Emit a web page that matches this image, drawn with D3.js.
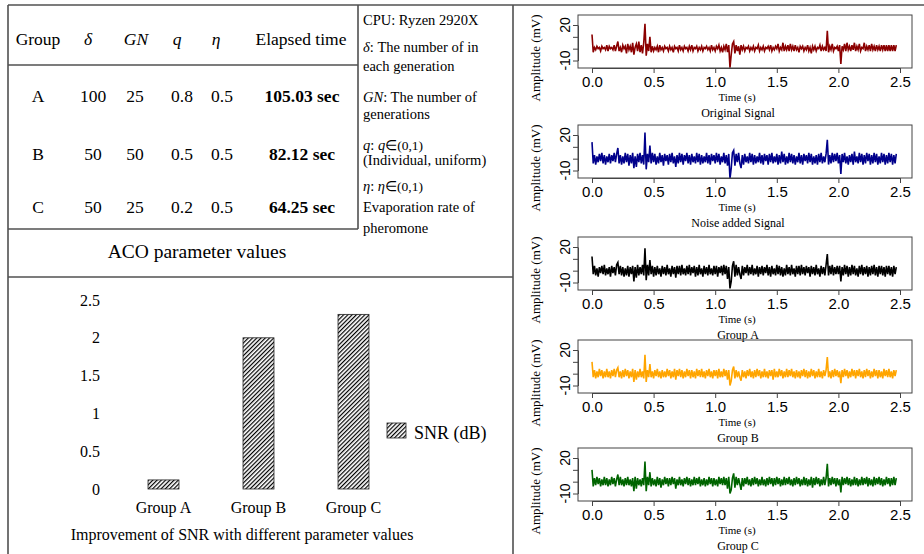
<!DOCTYPE html>
<html>
<head>
<meta charset="utf-8">
<script src="https://cdn.jsdelivr.net/npm/d3@7"></script>
<style>
body { margin: 0; background: #fff; }
svg { display: block; }
</style>
</head>
<body>
<div id="chart"></div>
<script>
// ACO parameter table
var groups = ["A", "B", "C"];
var delta = [100, 50, 50];
var gn = [25, 50, 25];
var qVals = ["0.8", "0.5", "0.2"];
var eta = ["0.5", "0.5", "0.5"];
var elapsed = ["105.03 sec", "82.12 sec", "64.25 sec"];

// SNR improvement bars
var snrCategories = ["Group A", "Group B", "Group C"];
var snrValues = [0.12, 2.0, 2.31];
var snrTicks = [0, 0.5, 1, 1.5, 2, 2.5];

// signal panels
var timeTicks = [0.0, 0.5, 1.0, 1.5, 2.0, 2.5];
var ampTicks = [-10, 0, 10, 20];
var ampLabels = [-10, 20];
var sampleStep = 0.01;   // seconds between samples
var signalTitles = ["Original Signal", "Noise added Signal", "Group A", "Group B", "Group C"];

var originalSignal = [
 12,-3,1,-1,2,0,1,-2,2,0, 1,-1,3,-2,2,0,1,-1,3,-2, 2,6,-2,1,-3,3,0,2,-4,4,
 -1,2,-3,5,-5,1,4,-2,6,-3, 3,-4,5,21,-6,4,-2,10,-3,2, -2,1,-1,2,-3,3,-1,1,-2,2,
 0,1,-2,2,-1,1,-3,2,0,1, -2,3,-1,1,-2,2,0,1,-2,2, -1,3,-2,1,0,2,-2,1,-1,2,
 -2,1,0,2,-1,1,-2,3,-1,1, -2,2,0,3,-2,1,-3,2,-1,4, -3,3,-16,-5,4,6,-4,3,-2,2,
 -5,3,-1,2,-2,1,0,2,-2,1, -1,2,-2,1,0,3,-2,1,-1,2, -2,1,0,2,-1,3,-2,1,-1,2,
 0,4,-2,1,-1,5,-2,2,-1,3, -2,4,-1,2,-2,3,-1,1,-3,2, 0,2,-2,1,-1,3,-2,1,-4,2,
 -1,2,-2,1,0,3,-2,2,-1,1, -2,15,-3,2,-1,4,-2,1,0,2, -2,3,-13,2,-1,4,-2,5,-1,2,
 -2,3,-1,5,-2,2,-1,4,-2,1, 0,5,-2,2,-1,3,-2,4,-1,2, -2,3,-1,2,-2,3,-1,3,-2,3,
 -2,3,-2,3,-2,3,-2,3
];
var noisySignal = [
 14,-4,3,-5,2,-3,4,-2,5,-4, 3,-5,2,-3,4,-4,3,-2,5,-3, 4,9,-4,3,-5,2,-4,5,-3,4,
 -6,3,-4,5,-8,2,-7,4,-3,5, -4,3,-5,22,-9,4,-3,11,-4,5, -3,4,-5,2,-4,5,-3,3,-6,4,
 -2,3,-5,4,-3,5,-4,2,-7,3, -4,5,-3,4,-5,3,-2,5,-4,3, -5,4,-3,2,-4,5,-3,4,-5,3,
 -4,2,-3,5,-4,3,-5,4,-2,3, -4,5,-3,4,-5,2,-3,5,-4,3, -6,4,-17,-8,5,7,-6,4,-3,5,
 -4,-8,3,-5,4,-3,2,-4,5,-3, 4,-5,3,-4,2,-3,5,-4,3,-5, 4,-2,3,-5,4,-3,5,-4,2,-3,
 4,-5,3,-4,6,-3,4,-5,2,-4, 5,-3,4,-4,3,-5,2,-3,5,-4, 3,-5,4,-2,3,-4,5,-3,4,-5,
 2,-4,3,-5,4,-3,5,-4,2,-3, 4,16,-5,3,-4,5,-3,4,-2,5, -4,3,-13,4,-3,5,-4,2,-5,3,
 -3,4,-5,6,-3,2,-4,5,-3,4, -5,3,-4,5,-2,4,-5,3,-4,5, -3,4,-5,2,-4,5,-3,4,-5,3,
 -4,5,-3,4,-5,3,-4,4
];
var groupASignal = [
 12,-3,4,-4,2,-5,3,-2,4,-3, 5,-4,2,-3,3,-5,4,-2,3,-4, 5,7,-3,4,-4,3,-5,2,-4,4,
 -5,3,-3,4,-9,3,-6,5,-4,3, -3,5,-4,19,-8,5,-4,9,-3,4, -5,3,-4,4,-3,2,-5,4,-3,3,
 -4,5,-3,2,-5,4,-3,3,-6,4, -3,4,-4,5,-3,2,-4,4,-3,5, -4,3,-2,4,-5,3,-4,5,-3,2,
 -5,4,-3,3,-4,5,-3,2,-4,4, -3,4,-5,3,-2,4,-4,5,-3,4, -7,3,-15,-9,4,8,-5,5,-4,3,
 -3,-7,4,-4,3,-2,5,-4,3,-3, 5,-4,2,-3,4,-5,3,-3,4,-4, 3,-2,5,-4,3,-5,4,-3,2,-4,
 5,-3,4,-4,3,-5,2,-4,5,-3, 3,-4,5,-3,2,-5,4,-3,4,-4, 5,-3,3,-4,4,-2,3,-5,4,-3,
 3,-4,5,-3,2,-5,4,-3,3,-4, 5,14,-4,4,-3,5,-4,3,-3,4, -3,4,-9,3,-4,5,-3,4,-5,3,
 -4,5,-3,4,-4,2,-5,4,-3,5, -4,3,-3,4,-5,3,-4,4,-3,5, -4,3,-5,4,-3,4,-4,3,-5,4,
 -3,4,-4,3,-5,4,-3,3
];
var groupBSignal = [
 10,-3,3,-4,2,-3,4,-2,3,-4, 2,-3,4,-3,2,-4,3,-2,4,-3, 3,5,-3,2,-4,3,-3,4,-2,3,
 -4,2,-3,4,-7,3,-5,2,-3,4, -3,2,-4,16,-7,3,-3,8,-3,2, -4,3,-2,4,-3,2,-4,3,-3,2,
 -3,4,-2,3,-4,2,-3,4,-5,3, -2,4,-3,3,-4,2,-3,4,-2,3, -4,3,-3,2,-4,4,-2,3,-3,4,
 -3,2,-4,3,-2,4,-3,2,-4,3, -2,3,-4,4,-3,2,-3,4,-2,3, -5,3,-10,-6,3,6,-4,3,-3,2,
 -3,-6,3,-3,2,-4,3,-2,4,-3, 2,-4,3,-3,4,-2,3,-4,2,-3, 4,-3,2,-4,3,-2,3,-5,4,-3,
 2,-3,4,-2,3,-4,2,-3,4,-3, 3,-2,4,-3,2,-4,3,-3,2,-4, 3,-2,4,-3,3,-4,2,-3,4,-2,
 3,-4,2,-3,4,-3,2,-4,3,-2, 3,14,-3,2,-4,3,-3,4,-2,3, -3,2,-8,3,-3,4,-2,3,-4,2,
 -3,4,-2,3,-4,3,-2,4,-3,2, -4,3,-3,4,-2,3,-4,2,-3,4, -2,3,-4,3,-3,2,-4,4,-2,3,
 -3,4,-3,2,-4,3,-2,3
];
var groupCSignal = [
 10,-4,3,-3,4,-2,3,-4,2,-3, 4,-3,3,-4,2,-3,4,-2,3,-4, 2,6,-3,4,-3,2,-4,3,-3,4,
 -3,2,-4,3,-8,4,-6,3,-3,2, -4,3,-3,17,-8,4,-3,8,-4,3, -3,2,-4,4,-3,3,-5,2,-3,4,
 -2,3,-4,3,-3,4,-2,3,-6,2, -3,4,-3,2,-4,3,-2,4,-3,3, -4,2,-3,4,-3,3,-2,4,-4,2,
 -3,3,-4,2,-3,4,-2,3,-4,3, -3,2,-4,4,-2,3,-3,4,-3,3, -6,4,-10,-7,3,7,-5,4,-3,3,
 -2,-7,3,-4,3,-2,4,-3,2,-4, 3,-3,4,-2,3,-4,2,-3,4,-3, 2,-4,3,-3,4,-2,3,-4,3,-3,
 4,-2,3,-4,2,-3,4,-3,3,-2, 4,-3,2,-4,3,-3,4,-2,3,-4, 2,-3,4,-3,3,-4,2,-3,4,-5,
 3,-3,4,-2,3,-4,2,-3,4,-3, 3,15,-4,3,-3,4,-2,3,-4,3, -3,2,-9,4,-3,3,-2,4,-3,3,
 -4,2,-3,4,-3,3,-4,2,-3,4, -3,3,-2,4,-4,3,-3,2,-4,4, -3,3,-2,4,-3,3,-4,2,-3,4,
 -2,3,-4,3,-3,4,-3,3
];

var signals = [originalSignal, noisySignal, groupASignal, groupBSignal, groupCSignal];
var signalColors = ["#8b0000", "#00008b", "#000000", "#ffa500", "#006400"];

var serif = "'Liberation Serif','Times New Roman',serif";
var sans = "'Liberation Sans',Arial,sans-serif";

var svg = d3.select("#chart").append("svg")
	.attr("width", 924)
	.attr("height", 554)
	.style("font-family", serif);

// frame lines round the panels
var frame = [
	[8, 5, 924, 5], [8, 5, 8, 554], [513, 5, 513, 554], [8, 277, 513, 277],
	[358, 5, 358, 229], [8, 65, 358, 65], [8, 229, 358, 229]
];
svg.selectAll("line.frame")
	.data(frame).enter().append("line")
	.attr("class", "frame")
	.attr("x1", function(d) { return d[0]; })
	.attr("y1", function(d) { return d[1]; })
	.attr("x2", function(d) { return d[2]; })
	.attr("y2", function(d) { return d[3]; })
	.style("stroke", "#505050")
	.style("stroke-width", "1.6px");

///////////////////////////////////////////
// table
var headers = [["Group", false], ["δ", true], ["GN", true], ["q", true], ["η", true], ["Elapsed time", false]];
var headerX = [38, 88, 136, 177, 216, 301];
var cellX = [38, 93, 135, 182, 222, 302];
var rowY = [102, 160, 213];

svg.selectAll("text.header")
	.data(headers).enter().append("text")
	.attr("class", "header")
	.attr("x", function(d, i) { return headerX[i]; })
	.attr("y", 45)
	.attr("text-anchor", "middle")
	.style("font-size", "17.5px")
	.style("font-style", function(d) { return d[1] ? "italic" : "normal"; })
	.text(function(d) { return d[0]; });

var rows = groups.map(function(g, i) { return [g, delta[i], gn[i], qVals[i], eta[i], elapsed[i]]; });
rows.forEach(function(r, ri) {
	svg.selectAll("text.row" + ri)
		.data(r).enter().append("text")
		.attr("class", "row" + ri)
		.attr("x", function(d, i) { return cellX[i]; })
		.attr("y", rowY[ri])
		.attr("text-anchor", "middle")
		.style("font-size", "17.5px")
		.style("font-weight", function(d, i) { return i == 5 ? "bold" : "normal"; })
		.text(function(d) { return d; });
});

svg.append("text")
	.attr("x", 197).attr("y", 258)
	.attr("text-anchor", "middle")
	.style("font-size", "19.5px")
	.text("ACO parameter values");

// notes next to the table: each line is a list of [text, italic]
var notes = [
	[[["CPU: Ryzen 2920X", false]], 25],
	[[["δ", true], [": The number of in", false]], 52],
	[[["each generation", false]], 71],
	[[["GN", true], [": The number of", false]], 102],
	[[["generations", false]], 119],
	[[["q", true], [": ", false], ["q", true], ["∈(0,1)", false]], 150],
	[[["(Individual, uniform)", false]], 165],
	[[["η", true], [": ", false], ["η", true], ["∈(0,1)", false]], 191],
	[[["Evaporation rate of", false]], 212],
	[[["pheromone", false]], 233]
];
var noteText = svg.selectAll("text.note")
	.data(notes).enter().append("text")
	.attr("class", "note")
	.attr("x", 363)
	.attr("y", function(d) { return d[1]; })
	.style("font-size", "14.5px");
noteText.selectAll("tspan")
	.data(function(d) { return d[0]; }).enter().append("tspan")
	.style("font-style", function(d) { return d[1] ? "italic" : "normal"; })
	.style("font-size", function(d) { return d[0].indexOf("∈") >= 0 ? "13.5px" : null; })
	.text(function(d) { return d[0]; });

///////////////////////////////////////////
// SNR bar chart
var defs = svg.append("defs");
defs.append("pattern")
	.attr("id", "hatch")
	.attr("patternUnits", "userSpaceOnUse")
	.attr("width", 3)
	.attr("height", 3)
	.attr("patternTransform", "rotate(45)")
	.append("line")
	.attr("x1", 0.6).attr("y1", 0).attr("x2", 0.6).attr("y2", 3)
	.style("stroke", "#000")
	.style("stroke-width", "1.2px");

var xBar = d3.scaleBand().domain(snrCategories).range([116, 401]).paddingInner(0.674).paddingOuter(0.337);
var yBar = d3.scaleLinear().domain([0, 2.5]).range([489, 300]);

svg.selectAll("rect.bar")
	.data(snrValues).enter().append("rect")
	.attr("class", "bar")
	.attr("x", function(d, i) { return xBar(snrCategories[i]); })
	.attr("y", function(d) { return yBar(d); })
	.attr("width", xBar.bandwidth())
	.attr("height", function(d) { return yBar(0) - yBar(d); })
	.attr("fill", "url(#hatch)")
	.style("stroke", "#222")
	.style("stroke-width", "0.8px");

var yAxisBar = svg.append("g")
	.attr("transform", "translate(103,0)")
	.call(d3.axisLeft(yBar).tickValues(snrTicks).tickSize(0).tickPadding(3).tickFormat(function(d) { return String(d); }));
yAxisBar.select(".domain").remove();
yAxisBar.selectAll("text").style("font-family", serif).style("font-size", "16px").attr("fill", "#000");

var xAxisBar = svg.append("g")
	.attr("transform", "translate(0,489)")
	.call(d3.axisBottom(xBar).tickSize(0).tickPadding(12.5));
xAxisBar.select(".domain").remove();
xAxisBar.selectAll("text").style("font-family", serif).style("font-size", "16px").attr("fill", "#000");

svg.append("text")
	.attr("x", 242).attr("y", 540)
	.attr("text-anchor", "middle")
	.style("font-size", "16px")
	.text("Improvement of SNR with different parameter values");

svg.append("rect")
	.attr("x", 387).attr("y", 423).attr("width", 19).attr("height", 15)
	.attr("fill", "url(#hatch)")
	.style("stroke", "#222").style("stroke-width", "0.8px");
svg.append("text")
	.attr("x", 414).attr("y", 439)
	.style("font-size", "18px")
	.text("SNR (dB)");

///////////////////////////////////////////
// signal panels
var panelTop = [15, 125, 237, 340, 448];
var x = d3.scaleLinear().domain([0, 2.5]).range([592, 900]);

signals.forEach(function(sig, k) {
	var top = panelTop[k];
	var y = d3.scaleLinear().domain([-10, 20]).range([top + 45.5, top + 10]);
	var g = svg.append("g").attr("class", "panel");

	g.append("path")
		.datum(sig)
		.attr("fill", "none")
		.style("stroke", signalColors[k])
		.style("stroke-width", "1.6px")
		.style("stroke-linejoin", "miter")
		.attr("d", d3.line()
			.x(function(d, i) { return x(i * sampleStep); })
			.y(function(d) { return y(d); }));

	g.append("rect")
		.attr("x", 578).attr("y", top).attr("width", 334).attr("height", 53)
		.attr("fill", "none")
		.style("stroke", "#444").style("stroke-width", "1px");

	var xa = g.append("g")
		.attr("transform", "translate(0," + (top + 53) + ")")
		.call(d3.axisBottom(x).tickValues(timeTicks).tickSize(5).tickSizeOuter(0).tickPadding(3.5).tickFormat(d3.format(".1f")));
	xa.select(".domain").style("stroke", "#444");
	xa.selectAll("line").style("stroke", "#444");
	xa.selectAll("text").style("font-family", sans).style("font-size", "15px").attr("fill", "#000");

	var ya = g.append("g")
		.attr("transform", "translate(578,0)")
		.call(d3.axisLeft(y).tickValues(ampTicks).tickSize(5).tickSizeOuter(0).tickFormat(""));
	ya.select(".domain").style("stroke", "#444");
	ya.selectAll("line").style("stroke", "#444");

	g.selectAll("text.amp")
		.data(ampLabels).enter().append("text")
		.attr("class", "amp")
		.attr("transform", function(d) { return "translate(570," + y(d) + ") rotate(-90)"; })
		.attr("text-anchor", "middle")
		.style("font-family", sans)
		.style("font-size", "14px")
		.text(function(d) { return d; });

	g.append("text")
		.attr("transform", "translate(540," + (top + 43) + ") rotate(-90)")
		.attr("text-anchor", "middle")
		.style("font-size", "13px")
		.text("Amplitude (mV)");

	g.append("text")
		.attr("x", 737).attr("y", top + 86)
		.attr("text-anchor", "middle")
		.style("font-size", "11px")
		.text("Time (s)");

	g.append("text")
		.attr("x", 738).attr("y", top + 102)
		.attr("text-anchor", "middle")
		.style("font-size", "12px")
		.text(signalTitles[k]);
});
</script>
</body>
</html>
